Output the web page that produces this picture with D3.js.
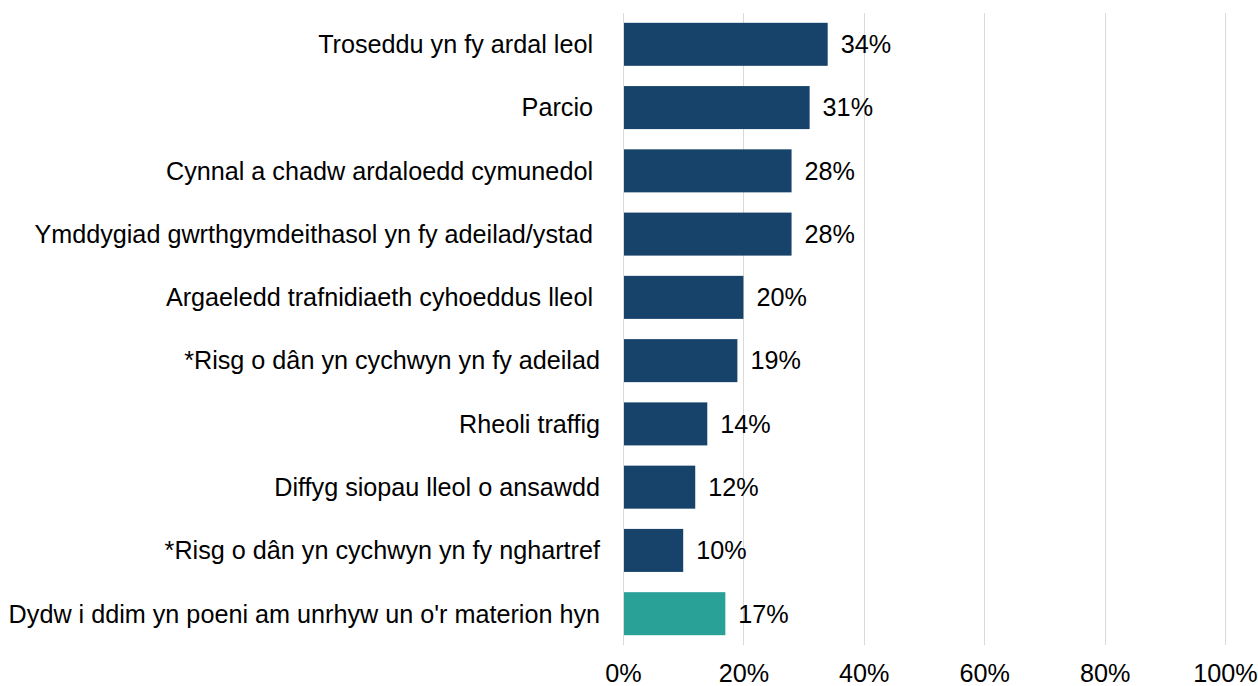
<!DOCTYPE html>
<html>
<head>
<meta charset="utf-8">
<script src="https://cdn.jsdelivr.net/npm/d3@7"></script>
<style>
html,body{margin:0;padding:0;background:#fff;}
svg{display:block;font-family:"Liberation Sans",Arial,sans-serif;}
text{white-space:pre;}
</style>
</head>
<body>
<svg id="chart" width="1258" height="686"></svg>
<script>
const categories = [
  "Troseddu yn fy ardal leol ",
  "Parcio ",
  "Cynnal a chadw ardaloedd cymunedol ",
  "Ymddygiad gwrthgymdeithasol yn fy adeilad/ystad ",
  "Argaeledd trafnidiaeth cyhoeddus lleol ",
  "*Risg o dân yn cychwyn yn fy adeilad",
  "Rheoli traffig",
  "Diffyg siopau lleol o ansawdd",
  "*Risg o dân yn cychwyn yn fy nghartref",
  "Dydw i ddim yn poeni am unrhyw un o'r materion hyn"
];
const values = [34, 31, 28, 28, 20, 19, 14, 12, 10, 17];
const highlight = [false, false, false, false, false, false, false, false, false, true];
const tickValues = [0, 20, 40, 60, 80, 100];

const svg = d3.select("#chart");
const x = d3.scaleLinear().domain([0, 100]).range([623, 1225]);
const y = d3.scaleBand().domain(categories).range([13, 645]).paddingInner(0.32).paddingOuter(0.155);

const fontSize = 25.2;

// gridlines
svg.append("g").selectAll("line").data(tickValues).join("line")
  .attr("x1", d => Math.round(x(d)) + 0.5).attr("x2", d => Math.round(x(d)) + 0.5)
  .attr("y1", 13).attr("y2", 645)
  .attr("stroke", "#d9d9d9").attr("stroke-width", 1);

// bars
svg.append("g").selectAll("rect").data(categories).join("rect")
  .attr("x", x(0) + 1)
  .attr("y", d => y(d))
  .attr("width", (d, i) => x(values[i]) - x(0) - 1)
  .attr("height", y.bandwidth())
  .attr("fill", (d, i) => highlight[i] ? "#2aa197" : "#17436b");

// value labels
svg.append("g").selectAll("text").data(categories).join("text")
  .attr("x", (d, i) => x(values[i]) + 13)
  .attr("y", d => y(d) + y.bandwidth() / 2)
  .attr("dy", "0.35em")
  .attr("font-size", fontSize)
  .attr("fill", "#000")
  .text((d, i) => values[i] + "%");

// category labels
svg.append("g").selectAll("text").data(categories).join("text")
  .attr("x", 600)
  .attr("y", d => y(d) + y.bandwidth() / 2)
  .attr("dy", "0.35em")
  .attr("text-anchor", "end")
  .attr("font-size", fontSize)
  .attr("fill", "#000")
  .text(d => d);

// x axis
const xAxis = d3.axisBottom(x).tickValues(tickValues).tickFormat(d => d + "%").tickSize(0).tickPadding(0);
const gx = svg.append("g").attr("transform", "translate(0,664)").call(xAxis);
gx.select(".domain").remove();
gx.selectAll("text").attr("font-size", fontSize).attr("fill", "#000")
  .attr("font-family", "'Liberation Sans', Arial, sans-serif").attr("dy", "0.71em");
</script>
</body>
</html>
